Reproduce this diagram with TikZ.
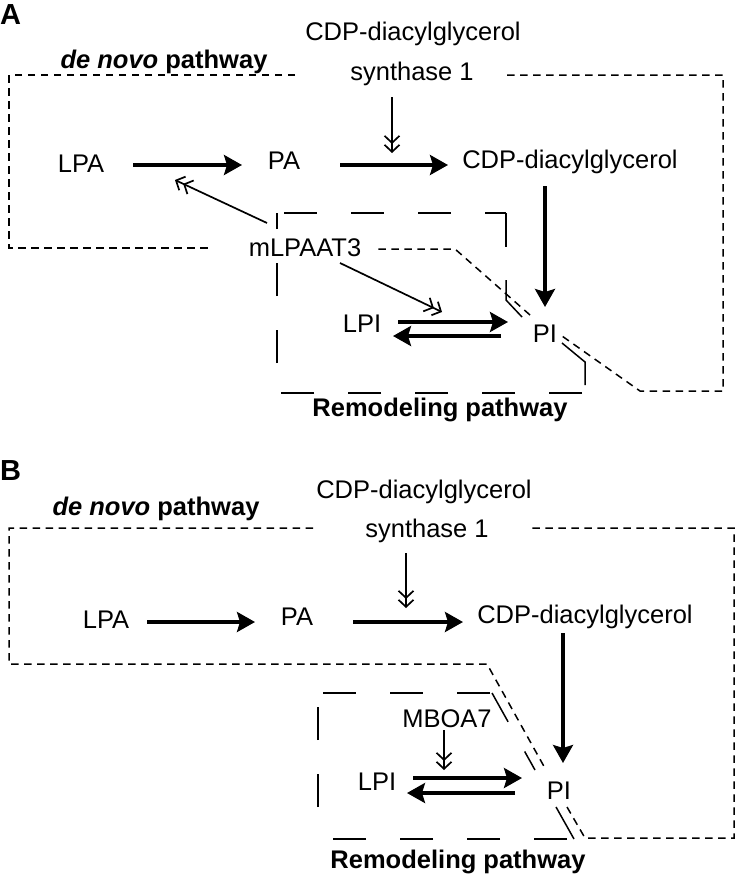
\documentclass[tikz,border=0pt]{standalone}
\usepackage{fontspec}
\setmainfont{Liberation Sans}
\usetikzlibrary{arrows.meta}
\begin{document}
\begin{tikzpicture}[x=1pt,y=-1pt,
  lbl/.style={anchor=base,inner sep=0pt,font=\fontsize{25.5}{30}\selectfont},
  blbl/.style={anchor=base,inner sep=0pt,font=\fontsize{25.5}{30}\selectfont\bfseries},
  panel/.style={anchor=base west,inner sep=0pt,font=\fontsize{29}{32}\selectfont\bfseries},
  fat/.style={line width=3.3pt,-{Stealth[length=18pt,width=20pt,inset=3pt]}},
  thin/.style={line width=1.7pt,-{Straight Barb[length=7pt,width=15pt]Straight Barb[length=7pt,width=15pt]}},
  denovo/.style={line width=1.5pt,dash pattern=on 7.5pt off 5.5pt},
  remod/.style={line width=1.5pt,dash pattern=on 33pt off 34pt},
  remsolid/.style={line width=1.5pt},
]
\useasboundingbox (0,0) rectangle (736,875);

% ================= Panel A =================
\node[panel] (labA) at (0,25) {A};
\node[lbl] (cdpsA) at (413,41) {CDP-diacylglycerol};
\node[lbl] (synthA) at (412,81) {synthase 1};
\node[blbl] (denovoA) at (164,68) {\textit{de novo} pathway};
\node[lbl] (LPAA) at (81,172) {LPA};
\node[lbl] (PAA) at (284,169) {PA};
\node[lbl] (CDPA) at (570,168) {CDP-diacylglycerol};
\node[lbl] (mL) at (305,256) {mLPAAT3};
\node[lbl] (LPIA) at (362,332) {LPI};
\node[lbl] (PIA) at (545,342) {PI};
\node[blbl] (remA) at (440,416) {Remodeling pathway};

% de novo boundary A
\draw[denovo] (295,75) -- (9,75) -- (9,248) -- (210,248);
\draw[denovo] (507,75) -- (723,75) -- (723,391) -- (640,391) -- (562,336);
\draw[denovo] (530,315) -- (455,249) -- (377,249);

% remodeling boundary A
\draw[remod,dash phase=60pt] (277,213) -- (506,213);
\draw[remsolid] (506,213) -- (506,247);
\draw[remsolid] (506,280) -- (506,300) -- (522,317);
\draw[remsolid] (562,343) -- (585,362) -- (585,385);
\draw[remod] (582,393) -- (277,393);
\draw[remod,dash phase=37pt] (277,393) -- (277,213);

% arrows A
\draw[fat] ([shift={(52,-7)}]LPAA.base) -- ([shift={(-42,-4)}]PAA.base);
\draw[fat] ([shift={(56,-4)}]PAA.base) -- ([shift={(-122,-3)}]CDPA.base);
\draw[thin] ([shift={(-20,16)}]synthA.base) -- ([shift={(-20,72)}]synthA.base);
\draw[fat] ([shift={(-25,18)}]CDPA.base) -- ([shift={(0,-35)}]PIA.base);
\draw[thin] ([shift={(-38,-33)}]mL.base) -- ([shift={(94,8)}]LPAA.base);
\draw[thin] ([shift={(35,7)}]mL.base) -- ([shift={(80,-20)}]LPIA.base);
\draw[fat] ([shift={(36,-10)}]LPIA.base) -- ([shift={(-37,-20)}]PIA.base);
\draw[fat] ([shift={(-44,-6)}]PIA.base) -- ([shift={(31,4)}]LPIA.base);

% ================= Panel B =================
\node[panel] (labB) at (0,480) {B};
\node[lbl] (cdpsB) at (424,498) {CDP-diacylglycerol};
\node[lbl] (synthB) at (427,537) {synthase 1};
\node[blbl] (denovoB) at (156,515) {\textit{de novo} pathway};
\node[lbl] (LPAB) at (106,628) {LPA};
\node[lbl] (PAB) at (297,625) {PA};
\node[lbl] (CDPB) at (585,623) {CDP-diacylglycerol};
\node[lbl] (MBOA) at (447,727) {MBOA7};
\node[lbl] (LPIB) at (377,790) {LPI};
\node[lbl] (PIB) at (559,799) {PI};
\node[blbl] (remB) at (458,868) {Remodeling pathway};

% de novo boundary B
\draw[denovo] (313,528) -- (9,528) -- (9,664) -- (487,664) -- (546,770);
\draw[denovo] (567,807) -- (585,838) -- (734,838) -- (734,528) -- (527,528);

% remodeling boundary B
\draw[remod,dash phase=62pt] (318,693) -- (492,693);
\draw[remod] (492,693) -- (535,770);
\draw[remsolid] (556,807) -- (574,839);
\draw[remod,dash phase=60pt] (574,839) -- (318,839);
\draw[remod,dash phase=35pt] (318,839) -- (318,693);

% arrows B
\draw[fat] ([shift={(41,-6)}]LPAB.base) -- ([shift={(-42,-3)}]PAB.base);
\draw[fat] ([shift={(56,-3)}]PAB.base) -- ([shift={(-122,-1)}]CDPB.base);
\draw[thin] ([shift={(-21,16)}]synthB.base) -- ([shift={(-21,71)}]synthB.base);
\draw[fat] ([shift={(-22,10)}]CDPB.base) -- ([shift={(4,-36)}]PIB.base);
\draw[thin] ([shift={(-3,3)}]MBOA.base) -- ([shift={(67,-20)}]LPIB.base);
\draw[fat] ([shift={(36,-12)}]LPIB.base) -- ([shift={(-37,-21)}]PIB.base);
\draw[fat] ([shift={(-44,-6)}]PIB.base) -- ([shift={(30,3)}]LPIB.base);
\end{tikzpicture}
\end{document}
